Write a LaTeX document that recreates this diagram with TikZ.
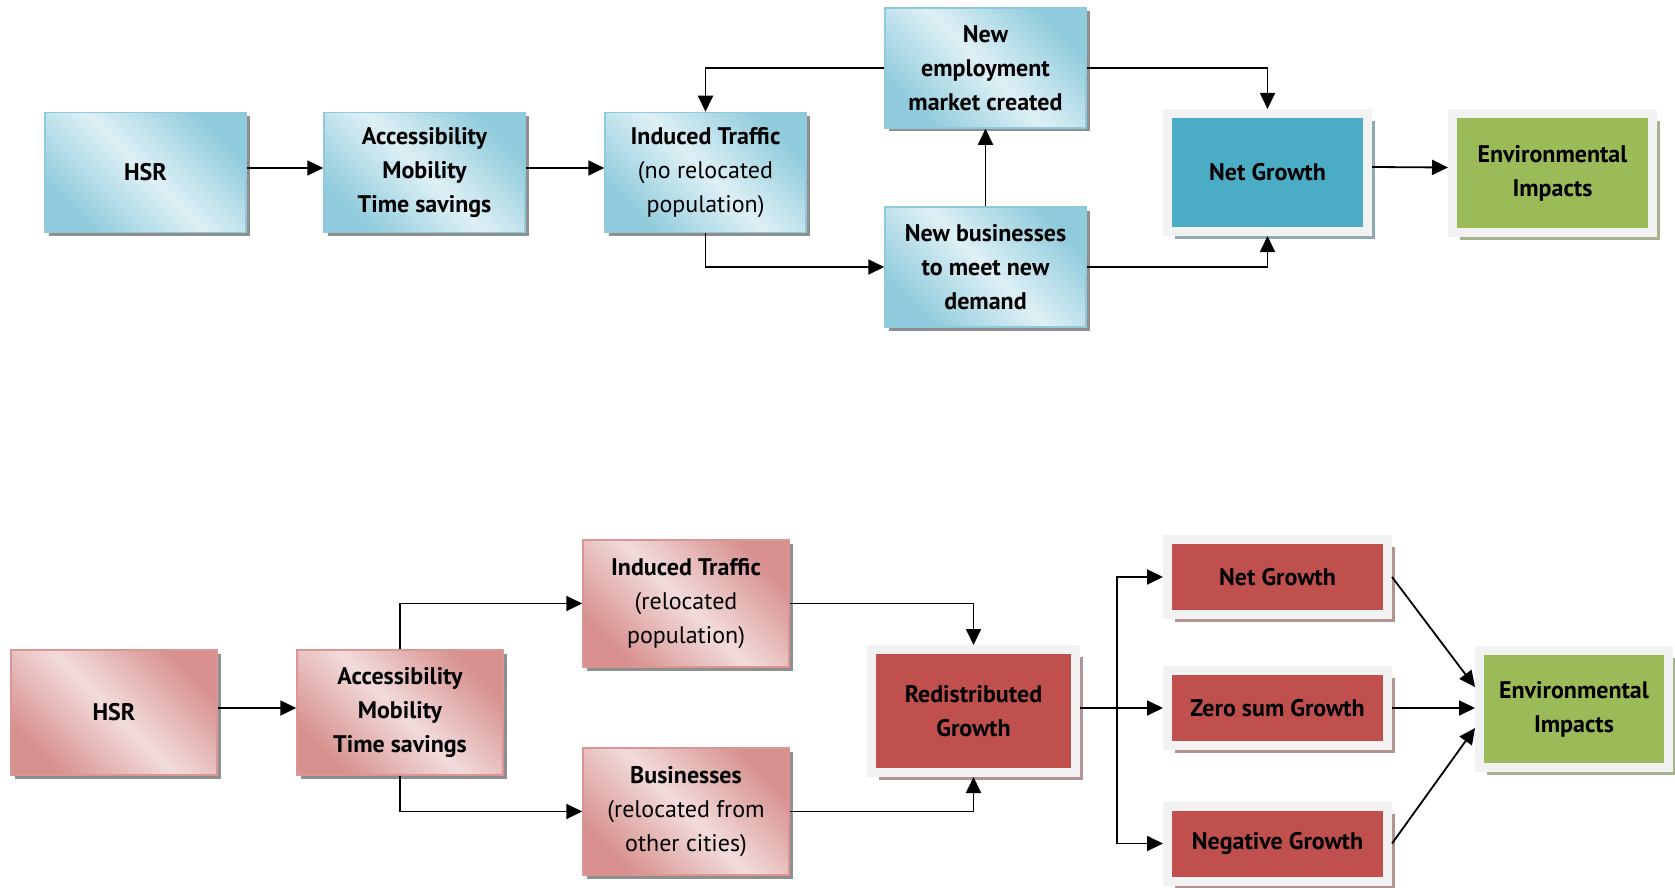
\documentclass[tikz,border=0pt]{standalone}
\usepackage{fontspec}
\setmainfont{PT Sans}
\usetikzlibrary{arrows.meta,shadows,calc}
\definecolor{bdark}{HTML}{8FCBDC}
\definecolor{blight}{HTML}{DEF0F5}
\definecolor{bborder}{HTML}{8ECADB}
\definecolor{pdark}{HTML}{D7908E}
\definecolor{plight}{HTML}{F2DCDB}
\definecolor{pborder}{HTML}{D99694}
\definecolor{cteal}{HTML}{4BACC6}
\definecolor{cgreen}{HTML}{9BBB59}
\definecolor{cred}{HTML}{C0504D}
\definecolor{cframe}{HTML}{F2F2F2}
\definecolor{shgray}{HTML}{8F8F8F}
\definecolor{shteal}{HTML}{8FAAB2}
\definecolor{shgreen}{HTML}{A6B38E}
\definecolor{shred}{HTML}{B39392}
\newcommand\dgfont{\fontsize{24}{34}\selectfont\bfseries}
\tikzset{
  gradbox/.style n args={3}{draw=#3, line width=1.5pt,
    top color=#1, bottom color=#1, middle color=#2, shading angle=-45,
    drop shadow={shadow xshift=3.5pt, shadow yshift=-3.5pt, fill=shgray, opacity=1},
    font=\dgfont, align=center, inner sep=2pt},
  bluebox/.style={gradbox={bdark}{blight}{bborder}, minimum width=201pt, minimum height=120pt},
  pinkbox/.style={gradbox={pdark}{plight}{pborder}, minimum width=206pt, minimum height=125pt},
  frbox/.style 2 args={draw=cframe, line width=9pt, fill=#1,
    drop shadow={shadow xshift=7.5pt, shadow yshift=-7.5pt, fill=#2, opacity=1},
    font=\dgfont, align=center, inner sep=2pt},
  conn/.style={line width=1.8pt, -{Triangle[length=16pt,width=15pt]}}
}
\begin{document}
\begin{tikzpicture}[x=1pt,y=-1pt]
\useasboundingbox[fill=white] (0,0) rectangle (1675,888);
% top diagram
\node[bluebox] (t1) at (145.5,172.5) {HSR};
\node[bluebox] (t2) at (424.5,172.5) {Accessibility\\Mobility\\Time savings};
\node[bluebox] (t3) at (705.5,172.5) {Induced Traffic\\{\mdseries(no relocated}\\{\mdseries population)}};
\node[bluebox] (t4) at (985.5,68) {New\\employment\\market created};
\node[bluebox] (t5) at (985.5,267) {New businesses\\to meet new\\demand};
\node[frbox={cteal}{shteal}, minimum width=200pt, minimum height=118pt] (t6) at (1267.5,172.5) {Net Growth};
\node[frbox={cgreen}{shgreen}, minimum width=200pt, minimum height=118pt] (t7) at (1552.5,173) {Environmental\\Impacts};
\draw[conn] ([yshift=4.5pt]t1.east) -- ([yshift=4.5pt]t2.west);
\draw[conn] ([yshift=4.5pt]t2.east) -- ([yshift=4.5pt]t3.west);
\draw[conn] ([yshift=5.5pt]t6.east) -- ([yshift=5.5pt]t7.west);
\draw[conn] (t3.south) |- (t5.west);
\draw[conn] (t4.west) -| (t3.north);
\draw[conn] (t4.east) -| (t6.north);
\draw[conn] (t5.east) -| (t6.south);
\draw[conn] (t5.north) -- (t4.south);
% bottom diagram
\node[pinkbox] (b1) at (114,712.5) {HSR};
\node[pinkbox] (b2) at (400,712.5) {Accessibility\\Mobility\\Time savings};
\node[pinkbox, minimum height=127pt] (b3) at (686,603.5) {Induced Traffic\\{\mdseries(relocated}\\{\mdseries population)}};
\node[pinkbox, minimum height=127pt] (b4) at (686,811.5) {Businesses\\{\mdseries(relocated from}\\{\mdseries other cities)}};
\node[frbox={cred}{shred}, minimum width=204pt, minimum height=123pt] (b5) at (973.5,711) {Redistributed\\Growth};
\node[frbox={cred}{shred}, minimum width=220pt, minimum height=75pt] (b6) at (1277.5,577) {Net Growth};
\node[frbox={cred}{shred}, minimum width=220pt, minimum height=75pt] (b7) at (1277.5,708) {Zero sum Growth};
\node[frbox={cred}{shred}, minimum width=220pt, minimum height=75pt] (b8) at (1277.5,843.5) {Negative Growth};
\node[frbox={cgreen}{shgreen}, minimum width=189pt, minimum height=117pt] (b9) at (1574,709) {Environmental\\Impacts};
\coordinate (br) at (1117,708);
\draw[conn] ([yshift=4.5pt]b1.east) -- ([yshift=4.5pt]b2.west);
\draw[conn] (b2.north) |- (b3.west);
\draw[conn] (b2.south) |- (b4.west);
\draw[conn] (b3.east) -| (b5.north);
\draw[conn] (b4.east) -| (b5.south);
\draw[conn] (b5.east |- b7.west) -- (b7.west);
\draw[conn] (br) |- (b6.west);
\draw[conn] (br) |- (b8.west);
\draw[conn] (b6.east) -- ([yshift=22pt]b9.west);
\draw[conn] (b7.east) -- (b7.east -| b9.west);
\draw[conn] (b8.east) -- ([yshift=-19pt]b9.west);
\end{tikzpicture}
\end{document}
